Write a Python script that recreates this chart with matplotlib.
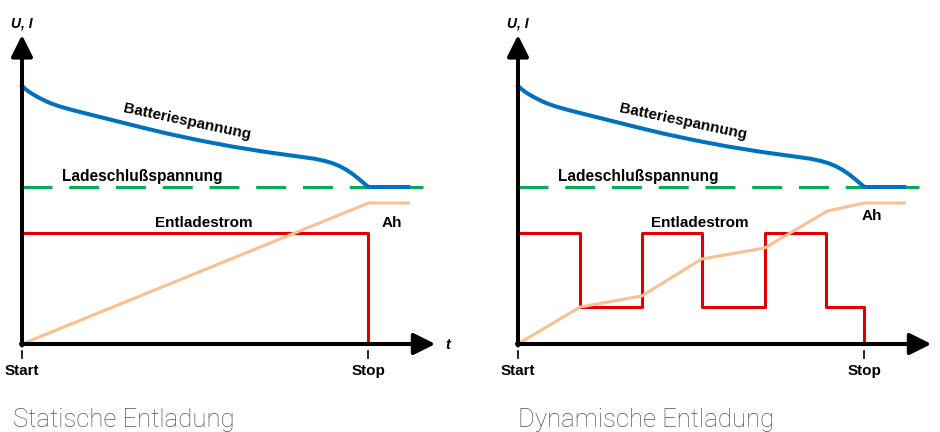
import matplotlib
matplotlib.use('Agg')
import matplotlib.pyplot as plt

# time axis: Start = 0, Stop = 100; values in arbitrary units
bat_t = [0, 1.15, 2.31, 3.75, 5.19, 6.93, 8.66, 10.97, 13.85, 16.74, 22.51, 28.28, 34.05,
         41.85, 51.37, 60.89, 70.42, 80.23, 84.56, 87.45, 89.75, 91.77, 93.79, 95.53,
         96.97, 98.41, 100, 111.5]
bat_u = [258, 254.5, 251.5, 248.5, 245.75, 242.75, 240.2, 237.5, 234.6, 232, 227, 222, 217,
         210.5, 203.5, 197.3, 192, 187.3, 185.2, 183, 180.6, 177.7, 173.8, 169.7,
         165.8, 161.5, 157, 157]

end_t = [0, 115.6]
end_u = [157, 157]

stat_i_t = [0, 100, 100]
stat_i = [111, 111, 0]
stat_ah_t = [0, 100, 111.5]
stat_ah = [0, 141, 141]

dyn_i_t = [0, 17.9, 35.7, 53.0, 71.2, 89.0, 100, 100]
dyn_i = [111, 37, 111, 37, 111, 37, 37, 0]
dyn_ah_t = [0, 17.9, 35.7, 53.0, 71.2, 89.3, 100, 111.5]
dyn_ah = [0, 37, 48, 85, 96, 133, 141, 141]

titles = ['Statische Entladung', 'Dynamische Entladung']

BLUE = '#0070c0'
GREEN = '#00b050'
RED = '#e00000'
PEACH = '#fbc092'

label_font = dict(family=['Liberation Sans', 'DejaVu Sans'], fontweight='bold', color='black')

fig = plt.figure(figsize=(9.4, 4.32), dpi=100)

# pixel scale: 3.465 px per time unit, 1 px per value unit
panels = [
    dict(rect=[0, 0, 0.5, 1], xlim=(-6.35, 129.3), title_x=-2.6, t_label=True,
         i_t=stat_i_t, i=stat_i, ah_t=stat_ah_t, ah=stat_ah, step=False, ah_pos=(106.7, 117)),
    dict(rect=[0.5, 0, 0.5, 1], xlim=(-13.85, 121.8), title_x=0, t_label=False,
         i_t=dyn_i_t, i=dyn_i, ah_t=dyn_ah_t, ah=dyn_ah, step=True, ah_pos=(102.2, 124)),
]

for p, title in zip(panels, titles):
    ax = fig.add_axes(p['rect'])
    ax.set_xlim(*p['xlim'])
    ax.set_ylim(-88, 344)
    ax.axis('off')

    ax.plot(end_t, end_u, color=GREEN, lw=2.2, dashes=(9.8, 5.5), dash_capstyle='butt', zorder=2)
    ax.plot(bat_t, bat_u, color=BLUE, lw=2.9, solid_joinstyle='round', zorder=3)
    if p['step']:
        ax.step(p['i_t'], p['i'], where='post', color=RED, lw=2.2, zorder=3)
    else:
        ax.plot(p['i_t'], p['i'], color=RED, lw=2.2, zorder=3)
    ax.plot(p['ah_t'], p['ah'], color=PEACH, lw=2.2, zorder=4)

    # axes with arrow heads
    arrow = dict(arrowstyle='-|>,head_length=13,head_width=6.5', mutation_scale=1,
                 lw=2.9, color='black', shrinkA=0, shrinkB=0)
    ax.annotate('', xy=(119.3, 0), xytext=(-0.3, 0), arrowprops=arrow, zorder=6)
    ax.annotate('', xy=(0, 309), xytext=(0, -1.5), arrowprops=arrow, zorder=6)

    for tx, name in [(0, 'Start'), (100, 'Stop')]:
        ax.plot([tx, tx], [-6.7, -14], color='black', lw=1.2)
        ax.text(tx, -31, name, ha='center', va='baseline', fontsize=11, **label_font)

    ax.text(0, 317, 'U, I', ha='center', va='baseline', fontsize=10, fontstyle='italic',
            clip_on=False, **label_font)
    if p['t_label']:
        ax.text(123, -1, 't', ha='center', va='center', fontsize=10.5, fontstyle='italic', **label_font)

    ax.text(47.6, 222, 'Batteriespannung', ha='center', va='center', rotation=-12,
            rotation_mode='anchor', fontsize=11, **label_font)
    ax.text(34.7, 163, 'Ladeschlußspannung', ha='center', va='baseline', fontsize=11.2, **label_font)
    ax.text(52.5, 117.3, 'Entladestrom', ha='center', va='baseline', fontsize=11, **label_font)
    ax.text(p['ah_pos'][0], p['ah_pos'][1], 'Ah', ha='center', va='baseline', fontsize=11, **label_font)

    ax.text(p['title_x'], -83, title, ha='left', va='baseline', fontsize=18.5,
            family=['Roboto', 'DejaVu Sans'], fontweight='light', color='#555555')

plt.savefig('out.png', dpi=100)
